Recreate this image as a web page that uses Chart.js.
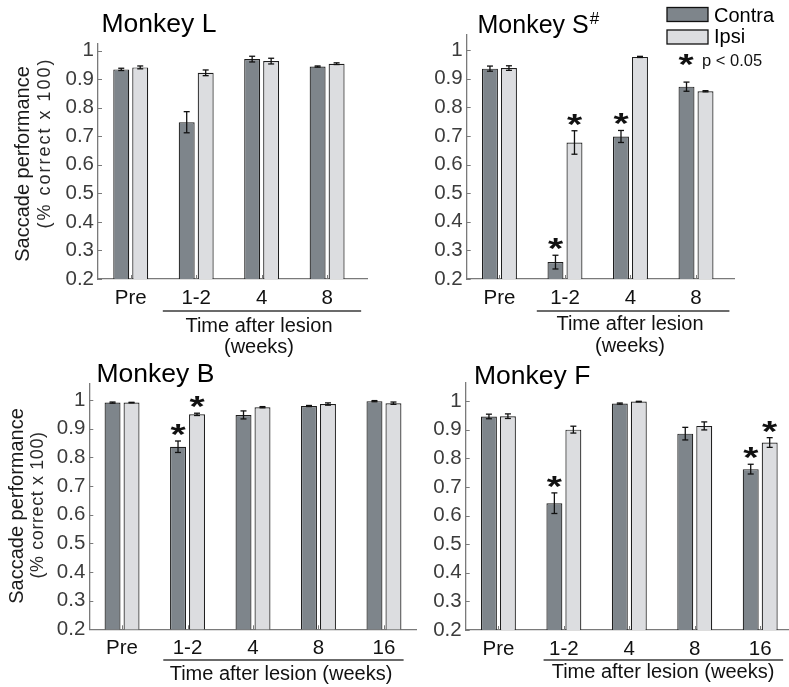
<!DOCTYPE html>
<html>
<head>
<meta charset="utf-8">
<script src="https://cdn.jsdelivr.net/npm/chart.js@4.4.1/dist/chart.umd.min.js"></script>
<style>
  html, body { margin: 0; padding: 0; background: #ffffff; }
  #wrap { position: relative; width: 789px; height: 687px; overflow: hidden; background: #ffffff; }
  #wrap canvas { position: absolute; left: 0; top: 0; }
</style>
</head>
<body>
<div id="wrap">
  <canvas id="panelL" width="789" height="687"></canvas>
  <canvas id="panelS" width="789" height="687"></canvas>
  <canvas id="panelB" width="789" height="687"></canvas>
  <canvas id="panelF" width="789" height="687"></canvas>
</div>
<script>
// ---- data ----------------------------------------------------------------
const weeksShort = ['Pre', '1-2', '4', '8'];
const weeksLong = ['Pre', '1-2', '4', '8', '16'];
const yTickValues = [0.2, 0.3, 0.4, 0.5, 0.6, 0.7, 0.8, 0.9, 1];

// Monkey L
const lContra    = [0.934, 0.749, 0.970, 0.944];
const lContraErr = [0.004, 0.037, 0.010, 0.002];
const lContraSig = [false, false, false, false];
const lIpsi      = [0.941, 0.922, 0.963, 0.954];
const lIpsiErr   = [0.005, 0.010, 0.010, 0.003];
const lIpsiSig   = [false, false, false, false];

// Monkey S
const sContra    = [0.935, 0.259, 0.698, 0.872];
const sContraErr = [0.009, 0.024, 0.021, 0.016];
const sContraSig = [false, true, true, false];
const sIpsi      = [0.937, 0.677, 0.976, 0.856];
const sIpsiErr   = [0.008, 0.041, 0.002, 0.002];
const sIpsiSig   = [false, true, false, false];

// Monkey B
const bContra    = [0.991, 0.837, 0.948, 0.979, 0.996];
const bContraErr = [0.002, 0.020, 0.014, 0.002, 0.002];
const bContraSig = [false, true, false, false, false];
const bIpsi      = [0.991, 0.950, 0.975, 0.986, 0.989];
const bIpsiErr   = [0.001, 0.004, 0.002, 0.004, 0.004];
const bIpsiSig   = [false, true, false, false, false];

// Monkey F
const fContra    = [0.946, 0.643, 0.991, 0.886, 0.762];
const fContraErr = [0.008, 0.036, 0.002, 0.022, 0.017];
const fContraSig = [false, true, false, false, true];
const fIpsi      = [0.947, 0.900, 0.998, 0.913, 0.855];
const fIpsiErr   = [0.008, 0.012, 0.001, 0.014, 0.017];
const fIpsiSig   = [false, false, false, false, true];

// ---- styling -------------------------------------------------------------
const FONT = "'Liberation Sans', Arial, Helvetica, sans-serif";
const CONTRA_FILL = '#7e858b';
const IPSI_FILL = '#dcdde0';
const BAR_EDGE = '#1e1e1e';
const AXIS_GRAY = '#7a7a7a';
const PAGE_W = 789, PAGE_H = 687;
const Y_AXIS_W = 70, X_AXIS_H = 60;

// per-panel decorations: titles, axis captions, bracket under the post-lesion weeks
const decorations = {
  panelL: {
    title: 'Monkey L', titleSize: 26.5, titleX: 101.5, titleY: 31.5,
    bracket: [1.49, 4.52], bracketY: 311,
    xTitle: ['Time after lesion', '(weeks)'], xTitleX: 259, xTitleY: [332, 353],
    yTitle: { mainX: 23, mainY: 164, subX: 45, subY: 143, subSpacing: 2 }
  },
  panelS: {
    title: 'Monkey S', sup: '#', titleSize: 25, titleX: 477.5, titleY: 33,
    bracket: [1.57, 4.51], bracketY: 311,
    xTitle: ['Time after lesion', '(weeks)'], xTitleX: 630, xTitleY: [330, 352],
    legend: true
  },
  panelB: {
    title: 'Monkey B', titleSize: 26.5, titleX: 96.5, titleY: 382,
    bracket: [1.63, 5.3], bracketY: 660,
    xTitle: ['Time after lesion (weeks)'], xTitleX: 281, xTitleY: [680],
    yTitle: { mainX: 17, mainY: 506, subX: 38, subY: 505, subSpacing: 0.6 }
  },
  panelF: {
    title: 'Monkey F', titleSize: 26.5, titleX: 474, titleY: 384,
    bracket: [1.69, 5.35], bracketY: 660,
    xTitle: ['Time after lesion (weeks)'], xTitleX: 663, xTitleY: [678]
  }
};

function drawStar(ctx, cx, cy, size) {
  ctx.save();
  ctx.font = `bold ${size}px ${FONT}`;
  ctx.textAlign = 'center';
  ctx.textBaseline = 'alphabetic';
  const m = ctx.measureText('*');
  const shift = (m.actualBoundingBoxAscent - m.actualBoundingBoxDescent) / 2;
  ctx.translate(cx, cy);
  ctx.scale(1.3, 1);
  ctx.fillStyle = '#111';
  ctx.fillText('*', 0, shift);
  ctx.restore();
}

function strokeLine(ctx, x1, y1, x2, y2) {
  ctx.beginPath();
  ctx.moveTo(x1, y1);
  ctx.lineTo(x2, y2);
  ctx.stroke();
}

const panelDecor = {
  id: 'panelDecor',
  afterDatasetsDraw(chart) {
    const ctx = chart.ctx, xs = chart.scales.x, ys = chart.scales.y, area = chart.chartArea;
    ctx.save();
    // inward tick marks
    ctx.strokeStyle = AXIS_GRAY;
    ctx.lineWidth = 1;
    xs.ticks.forEach(t => {
      const px = Math.round(xs.getPixelForValue(t.value)) + 0.5;
      strokeLine(ctx, px, area.bottom, px, area.bottom - 4);
    });
    ys.ticks.forEach(t => {
      const py = Math.round(ys.getPixelForValue(t.value)) + 0.5;
      strokeLine(ctx, area.left, py, area.left + 4, py);
    });
    // error bars and significance marks
    ctx.strokeStyle = '#111';
    ctx.lineWidth = 1.3;
    chart.data.datasets.forEach((ds, di) => {
      const meta = chart.getDatasetMeta(di);
      meta.data.forEach((bar, i) => {
        const v = ds.data[i].y, e = ds.errors[i];
        const top = ys.getPixelForValue(v + e);
        const bot = ys.getPixelForValue(v - e);
        strokeLine(ctx, bar.x, top, bar.x, bot);
        strokeLine(ctx, bar.x - 3, top, bar.x + 3, top);
        strokeLine(ctx, bar.x - 3, bot, bar.x + 3, bot);
        if (ds.sig[i]) drawStar(ctx, bar.x, top - 11, 30);
      });
    });
    ctx.restore();
  },
  afterDraw(chart) {
    const d = decorations[chart.canvas.id];
    const ctx = chart.ctx, xs = chart.scales.x;
    ctx.save();
    ctx.fillStyle = '#000';
    ctx.textBaseline = 'alphabetic';
    // panel title
    ctx.font = `${d.titleSize}px ${FONT}`;
    ctx.textAlign = 'left';
    ctx.fillText(d.title, d.titleX, d.titleY);
    if (d.sup) {
      const w = ctx.measureText(d.title).width;
      ctx.font = `17px ${FONT}`;
      ctx.fillText(d.sup, d.titleX + w + 1, d.titleY - 9);
    }
    // bracket over the post-lesion categories
    ctx.strokeStyle = '#3a3a3a';
    ctx.lineWidth = 1.5;
    strokeLine(ctx, xs.getPixelForValue(d.bracket[0]), d.bracketY,
               xs.getPixelForValue(d.bracket[1]), d.bracketY);
    // x caption
    ctx.font = `20px ${FONT}`;
    ctx.fillStyle = '#111';
    ctx.textAlign = 'center';
    d.xTitle.forEach((line, i) => ctx.fillText(line, d.xTitleX, d.xTitleY[i]));
    // y caption
    if (d.yTitle) {
      const t = d.yTitle;
      ctx.textBaseline = 'middle';
      ctx.save();
      ctx.translate(t.mainX, t.mainY);
      ctx.rotate(-Math.PI / 2);
      ctx.font = `20px ${FONT}`;
      ctx.fillStyle = '#1a1a1a';
      ctx.fillText('Saccade performance', 0, 0);
      ctx.restore();
      ctx.save();
      ctx.translate(t.subX, t.subY);
      ctx.rotate(-Math.PI / 2);
      ctx.font = `18px ${FONT}`;
      if ('letterSpacing' in ctx) ctx.letterSpacing = `${t.subSpacing}px`;
      ctx.fillStyle = '#2a2a2a';
      ctx.fillText('(% correct x 100)', 0, 0);
      ctx.restore();
    }
    // legend
    if (d.legend) {
      const sets = chart.data.datasets;
      const rows = [{ y: 7.5, base: 21.5 }, { y: 30, base: 43 }];
      sets.forEach((ds, i) => {
        ctx.fillStyle = ds.backgroundColor;
        ctx.fillRect(667, rows[i].y, 41, 14);
        ctx.strokeStyle = '#111';
        ctx.lineWidth = 1.3;
        ctx.strokeRect(667, rows[i].y, 41, 14);
        ctx.fillStyle = '#000';
        ctx.font = `20px ${FONT}`;
        ctx.textAlign = 'left';
        ctx.textBaseline = 'alphabetic';
        ctx.fillText(ds.label, 714, rows[i].base);
      });
      drawStar(ctx, 686, 60, 30);
      ctx.fillStyle = '#111';
      ctx.font = `16.5px ${FONT}`;
      ctx.textAlign = 'left';
      ctx.textBaseline = 'alphabetic';
      ctx.fillText('p < 0.05', 702, 65.5);
    }
    ctx.restore();
  }
};

function makePanel(id, labels, contra, contraErr, contraSig, ipsi, ipsiErr, ipsiSig, frame) {
  const toPoints = arr => arr.map((v, i) => ({ x: i + 1, y: v }));
  const barStyle = { borderColor: BAR_EDGE, borderWidth: 1.2, categoryPercentage: 0.58, barPercentage: 0.84 };
  return new Chart(document.getElementById(id), {
    type: 'bar',
    data: {
      datasets: [
        Object.assign({ label: 'Contra', data: toPoints(contra), errors: contraErr, sig: contraSig,
                        backgroundColor: CONTRA_FILL }, barStyle),
        Object.assign({ label: 'Ipsi', data: toPoints(ipsi), errors: ipsiErr, sig: ipsiSig,
                        backgroundColor: IPSI_FILL }, barStyle)
      ]
    },
    options: {
      responsive: false,
      animation: false,
      devicePixelRatio: 1,
      events: [],
      layout: {
        padding: {
          left: frame.left - Y_AXIS_W,
          right: PAGE_W - frame.right,
          top: frame.top,
          bottom: PAGE_H - frame.bottom - X_AXIS_H
        }
      },
      plugins: { legend: { display: false }, tooltip: { enabled: false }, title: { display: false } },
      scales: {
        x: {
          type: 'linear', min: 0.5, max: frame.xmax, offset: false,
          grid: { display: false, drawTicks: false },
          border: { display: true, color: AXIS_GRAY, width: 1.3 },
          afterBuildTicks: s => { s.ticks = labels.map((_, i) => ({ value: i + 1 })); },
          ticks: {
            autoSkip: false, maxRotation: 0, padding: 7, color: '#111',
            font: { family: FONT, size: 20.5 },
            callback: v => labels[Math.round(v) - 1] ?? ''
          },
          afterFit: s => { s.height = X_AXIS_H; }
        },
        y: {
          type: 'linear', min: 0.2, max: frame.ymax,
          grid: { display: false, drawTicks: false },
          border: { display: true, color: AXIS_GRAY, width: 1.3 },
          afterBuildTicks: s => { s.ticks = yTickValues.map(v => ({ value: v })); },
          ticks: {
            padding: 4, color: '#3c3c3c',
            font: { family: FONT, size: 20.5 },
            callback: v => (v === 1 ? '1' : v.toFixed(1))
          },
          afterFit: s => { s.width = Y_AXIS_W; }
        }
      }
    },
    plugins: [panelDecor]
  });
}

makePanel('panelL', weeksShort, lContra, lContraErr, lContraSig, lIpsi, lIpsiErr, lIpsiSig,
  { left: 98, right: 367.7, top: 43.4, bottom: 279, xmax: 4.62, ymax: 1.025 });
makePanel('panelS', weeksShort, sContra, sContraErr, sContraSig, sIpsi, sIpsiErr, sIpsiSig,
  { left: 466.7, right: 734, top: 34.3, bottom: 279, xmax: 4.58, ymax: 1.055 });
makePanel('panelB', weeksLong, bContra, bContraErr, bContraSig, bIpsi, bIpsiErr, bIpsiSig,
  { left: 89.3, right: 416.7, top: 383.4, bottom: 629.3, xmax: 5.5, ymax: 1.058 });
makePanel('panelF', weeksLong, fContra, fContraErr, fContraSig, fIpsi, fIpsiErr, fIpsiSig,
  { left: 465.7, right: 789, top: 382.4, bottom: 630, xmax: 5.44, ymax: 1.065 });
</script>
</body>
</html>
